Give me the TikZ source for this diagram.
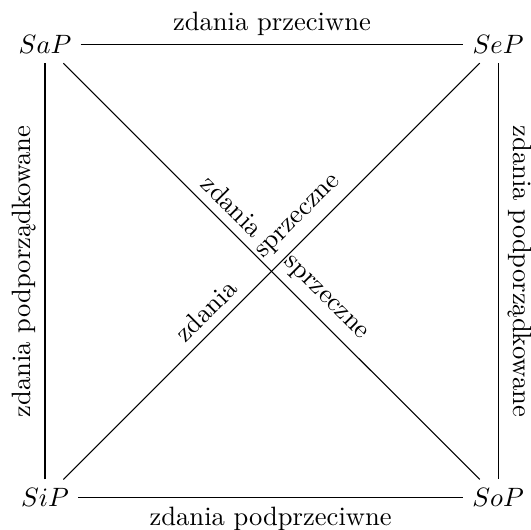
\documentclass[tikz,border=0pt]{standalone}
\begin{document}
\begin{tikzpicture}[
  term/.style={inner sep=3.33pt},
  lbl/.style={sloped, above, inner sep=3.33pt},
  line/.style={draw, line width=0.4pt}
]
\useasboundingbox (-16.96pt,-12.06pt) rectangle (183.1pt,187.6pt);
\node[term] (SiP) at (0,0) {$SiP$};
\node[term] (SoP) at (6,0) {$SoP$};
\node[term] (SaP) at (0,6) {$SaP$};
\node[term] (SeP) at (6,6) {$SeP$};

\path[line] (SaP) -- node[above] {zdania przeciwne} (SeP);
\path[line] (SiP) -- node[below] {zdania podprzeciwne} (SoP);
\path[line] (SiP) -- node[lbl] {zdania podporządkowane} (SaP);
\path[line] (SeP) -- node[lbl] {zdania podporządkowane} (SoP);
\path[line] (SaP) -- (SoP);
\path[line] (SiP) -- (SeP);

\path (SaP.center) -- (SoP.center)
  node[lbl, pos=0.385] {zdania}
  node[lbl, pos=0.589] {sprzeczne};
\path (SiP.center) -- (SeP.center)
  node[lbl, pos=0.384] {zdania}
  node[lbl, pos=0.590] {sprzeczne};
\end{tikzpicture}
\end{document}
